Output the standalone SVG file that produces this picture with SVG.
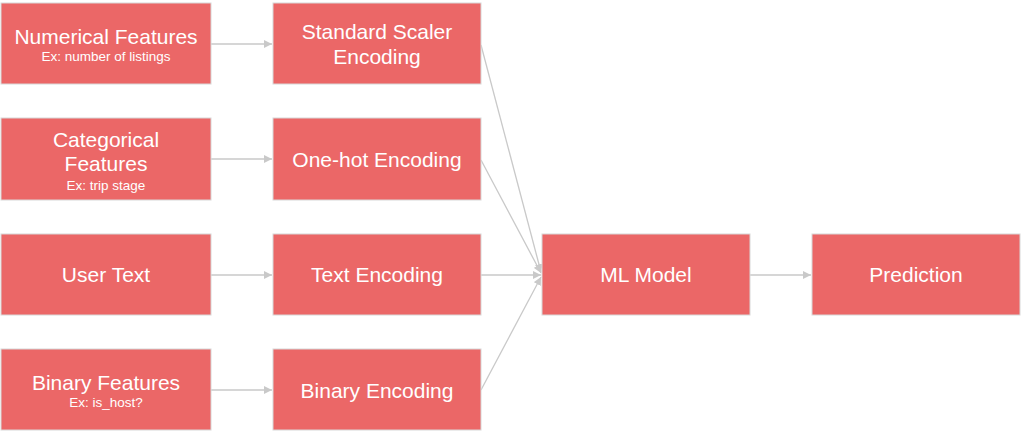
<svg xmlns="http://www.w3.org/2000/svg" width="1024" height="432" viewBox="0 0 1024 432">
<defs>
<style>
.box{fill:#eb6767;stroke:#d8d8d8;stroke-width:1}
.t{font-family:"Liberation Sans",Arial,sans-serif;font-size:21px;fill:#fff;text-anchor:middle}
.s{font-family:"Liberation Sans",Arial,sans-serif;font-size:13.5px;fill:#fff;text-anchor:middle}
.c{stroke:#c9c9c9;stroke-width:1.3;fill:none;marker-end:url(#ah)}
</style>
<marker id="ah" viewBox="0 0 10 10" refX="10" refY="5" markerWidth="8" markerHeight="8" markerUnits="userSpaceOnUse" orient="auto">
<path d="M0,0 L10,5 L0,10 z" fill="#c9c9c9"/>
</marker>
</defs>
<rect width="1024" height="432" fill="#fff"/>
<g id="connectors">
<line class="c" x1="211" y1="44" x2="272" y2="44"/>
<line class="c" x1="211" y1="159" x2="272" y2="159"/>
<line class="c" x1="211" y1="275" x2="272" y2="275"/>
<line class="c" x1="211" y1="390" x2="272" y2="390"/>
<line class="c" x1="481" y1="45" x2="541" y2="272"/>
<line class="c" x1="481" y1="160" x2="541" y2="273"/>
<line class="c" x1="481" y1="275" x2="541" y2="275"/>
<line class="c" x1="481" y1="390" x2="541" y2="277"/>
<line class="c" x1="750" y1="275" x2="811" y2="275"/>
</g>
<g id="numerical">
<rect class="box" x="1" y="3" width="210" height="81"/>
<text class="t" x="106" y="44">Numerical Features</text>
<text class="s" x="106" y="61">Ex: number of listings</text>
</g>
<g id="categorical">
<rect class="box" x="1" y="118" width="210" height="82"/>
<text class="t" x="106" y="147">Categorical</text>
<text class="t" x="106" y="171">Features</text>
<text class="s" x="106" y="190">Ex: trip stage</text>
</g>
<g id="usertext">
<rect class="box" x="1" y="234" width="210" height="81"/>
<text class="t" x="106" y="282">User Text</text>
</g>
<g id="binary">
<rect class="box" x="1" y="349" width="210" height="81"/>
<text class="t" x="106" y="390">Binary Features</text>
<text class="s" x="106" y="407">Ex: is_host?</text>
</g>
<g id="standard">
<rect class="box" x="273" y="3" width="208" height="81"/>
<text class="t" x="377" y="39">Standard Scaler</text>
<text class="t" x="377" y="64">Encoding</text>
</g>
<g id="onehot">
<rect class="box" x="273" y="118" width="208" height="82"/>
<text class="t" x="377" y="167">One-hot Encoding</text>
</g>
<g id="textenc">
<rect class="box" x="273" y="234" width="208" height="81"/>
<text class="t" x="377" y="282">Text Encoding</text>
</g>
<g id="binenc">
<rect class="box" x="273" y="349" width="208" height="81"/>
<text class="t" x="377" y="398">Binary Encoding</text>
</g>
<g id="mlmodel">
<rect class="box" x="542" y="234" width="208" height="81"/>
<text class="t" x="646" y="282">ML Model</text>
</g>
<g id="prediction">
<rect class="box" x="812" y="234" width="208" height="81"/>
<text class="t" x="916" y="282">Prediction</text>
</g>
</svg>
